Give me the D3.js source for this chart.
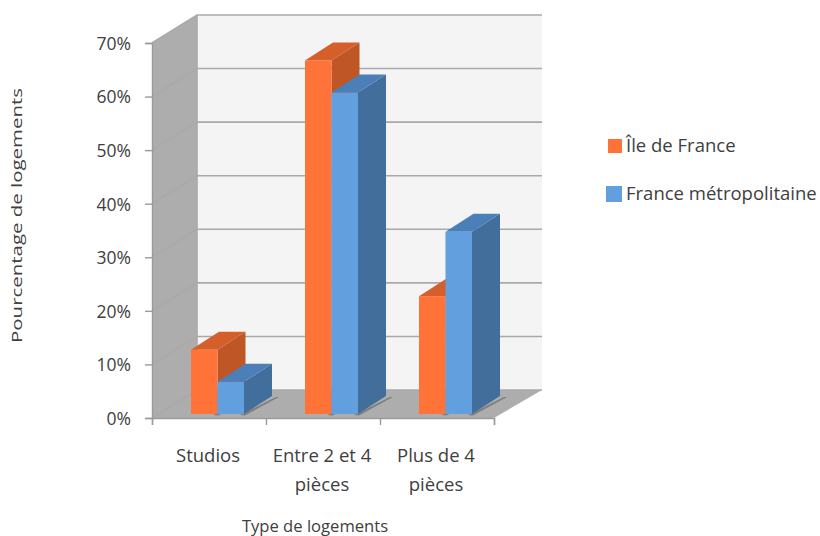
<!DOCTYPE html>
<html lang="fr">
<head>
<meta charset="utf-8">
<title>Type de logements</title>
<script src="https://cdn.jsdelivr.net/npm/d3@7"></script>
<style>
html,body{margin:0;padding:0;background:#fff}
svg{display:block}
text{font-family:"Open Sans",sans-serif;fill:#404040}
</style>
</head>
<body>
<svg id="chart" width="820" height="536"></svg>
<script>
const categories = [["Studios"], ["Entre 2 et 4", "pièces"], ["Plus de 4", "pièces"]];
const seriesNames = ["Île de France", "France métropolitaine"];
const ileDeFrance = [12, 66, 22];
const franceMetro = [6, 60, 34];
const yTicks = [0, 10, 20, 30, 40, 50, 60, 70];

const svg = d3.select("#chart");

// Oblique projection: front plane of the box, plus an offset towards the back wall
const box = {left: 152, right: 494, top: 43, bottom: 418, dx: 45, dy: -28};
const bar = {dx: 28, dy: -18, baseLift: 4, groupShift: 39, width: 26.5};

const y = d3.scaleLinear().domain([0, 70]).range([box.bottom, box.top]);
const x = d3.scaleBand().domain(d3.range(categories.length)).range([box.left, box.right]);
const xSeries = d3.scaleBand().domain(d3.range(seriesNames.length))
  .range([0, bar.width * seriesNames.length]);

const poly = pts => pts.map(p => p.join(",")).join(" ");

// Back wall
svg.append("polygon")
  .attr("points", poly([
    [box.left + box.dx, box.top + box.dy],
    [box.right + box.dx + 3, box.top + box.dy],
    [box.right + box.dx + 3, box.bottom + box.dy],
    [box.left + box.dx, box.bottom + box.dy]
  ]))
  .attr("fill", "#f4f4f4");

// Left wall
svg.append("polygon")
  .attr("points", poly([
    [box.left, box.top],
    [box.left + box.dx, box.top + box.dy],
    [box.left + box.dx, box.bottom + box.dy],
    [box.left, box.bottom]
  ]))
  .attr("fill", "#adadad");

// Floor
svg.append("polygon")
  .attr("points", poly([
    [box.left, box.bottom],
    [box.left + box.dx, box.bottom + box.dy],
    [box.right + box.dx + 3, box.bottom + box.dy],
    [box.right, box.bottom]
  ]))
  .attr("fill", "#adadad");

// Gridlines along the back wall and down the left wall
const grid = svg.append("g").attr("fill", "none").attr("stroke", "#a9a9a9").attr("stroke-width", 1.6);
yTicks.forEach(t => {
  grid.append("polyline").attr("points", poly([
    [box.left, y(t)],
    [box.left + box.dx, y(t) + box.dy],
    [box.right + box.dx + 3, y(t) + box.dy]
  ]));
});
grid.append("line")
  .attr("x1", box.left + box.dx).attr("x2", box.left + box.dx)
  .attr("y1", box.top + box.dy).attr("y2", box.bottom + box.dy);

// Bars, back-to-front inside each category
const seriesList = [
  {values: ileDeFrance, front: "#ff7238", top: "#d45f2b", side: "#bf5626"},
  {values: franceMetro, front: "#629fde", top: "#4b7fb8", side: "#426e9c"}
];
const barBase = y(0) - bar.baseLift;
const barScale = v => y(v) - bar.baseLift;

categories.forEach((_, c) => {
  seriesList.forEach((s, i) => {
    const x0 = x(c) + bar.groupShift + xSeries(i);
    const x1 = x0 + xSeries.bandwidth();
    const yTop = barScale(s.values[c]);
    const g = svg.append("g").attr("class", "bar");
    // Soft shadow cast on the floor
    g.append("polygon")
      .attr("points", poly([
        [x1 - 4, barBase + 1],
        [x1 + bar.dx + 4, barBase + bar.dy + 1],
        [x1 + bar.dx + 7, barBase + bar.dy + 1],
        [x1 + 1, barBase + 1.5]
      ]))
      .attr("fill", "#7f7f7f");
    g.append("polygon")
      .attr("points", poly([
        [x1, yTop], [x1 + bar.dx, yTop + bar.dy],
        [x1 + bar.dx, barBase + bar.dy], [x1, barBase]
      ]))
      .attr("fill", s.side);
    g.append("polygon")
      .attr("points", poly([
        [x0, yTop], [x0 + bar.dx, yTop + bar.dy],
        [x1 + bar.dx, yTop + bar.dy], [x1, yTop]
      ]))
      .attr("fill", s.top);
    g.append("rect")
      .attr("x", x0).attr("y", yTop)
      .attr("width", xSeries.bandwidth()).attr("height", barBase - yTop)
      .attr("fill", s.front);
  });
});

// Value axis
const yAxis = svg.append("g")
  .attr("transform", `translate(${box.left},0)`)
  .call(d3.axisLeft(y).tickValues(yTicks).tickFormat(d => d + "%").tickSize(7).tickPadding(14));
yAxis.selectAll("text").style("font-size", "17.5px").attr("dy", "0.36em");

// Category axis: ticks on band edges, labels centred under each band
const xEdges = d3.scaleLinear().domain([0, categories.length]).range([box.left, box.right]);
const xAxis = svg.append("g")
  .attr("transform", `translate(0,${box.bottom})`)
  .call(d3.axisBottom(xEdges).tickValues(d3.range(categories.length + 1)).tickFormat("").tickSize(7));
[yAxis, xAxis].forEach(a => {
  a.selectAll("path.domain").attr("stroke", "#9a9a9a").attr("stroke-width", 1.4);
  a.selectAll(".tick line").attr("stroke", "#9a9a9a").attr("stroke-width", 1.4);
});

const catLabelShift = -1;
const catLabels = svg.append("g").style("font-size", "18.5px").attr("text-anchor", "middle");
categories.forEach((lines, c) => {
  lines.forEach((line, j) => {
    catLabels.append("text")
      .attr("x", x(c) + x.bandwidth() / 2 + catLabelShift)
      .attr("y", 462 + j * 29)
      .text(line);
  });
});

// Axis titles
svg.append("text")
  .attr("x", 315).attr("y", 532)
  .attr("text-anchor", "middle").style("font-size", "16.6px")
  .text("Type de logements");
svg.append("text")
  .attr("transform", "translate(22,215.5) rotate(-90)")
  .attr("text-anchor", "middle").style("font-size", "15px")
  .attr("textLength", 255).attr("lengthAdjust", "spacingAndGlyphs")
  .text("Pourcentage de logements");

// Legend
const legendY = d3.scalePoint().domain(seriesNames).range([146, 194]);
const legendX = [608, 606];
const legendSize = [14, 16];
seriesNames.forEach((name, i) => {
  svg.append("rect")
    .attr("x", legendX[i])
    .attr("y", legendY(name) - legendSize[i] / 2)
    .attr("width", legendSize[i]).attr("height", legendSize[i])
    .attr("fill", seriesList[i].front);
  svg.append("text")
    .attr("x", 626).attr("y", legendY(name) + 6)
    .style("font-size", "18.5px")
    .text(name);
});
</script>
</body>
</html>
